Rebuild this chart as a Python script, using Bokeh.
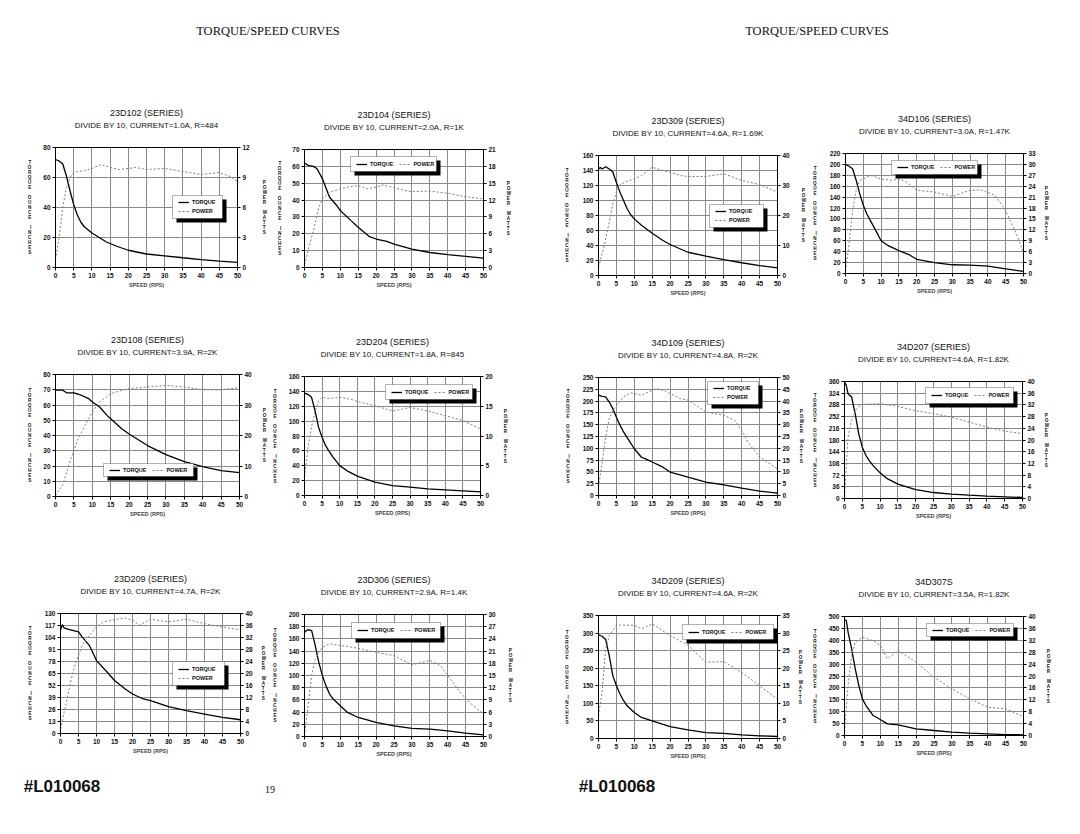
from bokeh.plotting import figure
from bokeh.models import (Range1d, LinearAxis, FixedTicker, Legend, LegendItem, Title,
                          BoxAnnotation, Div, Spacer, Axis)
from bokeh.layouts import row, column
from bokeh.embed import file_html
from bokeh.resources import INLINE

# ---------------- page texts ----------------
page_heading = "TORQUE/SPEED CURVES"
catalog_no = "#L010068"
page_no = "19"
x_label = "SPEED (RPS)"
left_label = ["TORQUE", "OUNCE", "INCHES"]
right_label = ["POWER", "WATTS"]
legend_labels = ["TORQUE", "POWER"]
speed_ticks = [0, 5, 10, 15, 20, 25, 30, 35, 40, 45, 50]

# ---------------- data ----------------
m1_title = "23D102 (SERIES)"
m1_sub = "DIVIDE BY 10, CURRENT=1.0A, R=484"
m1_tq_x = [0, 1, 2, 3, 4, 5, 6, 7, 8, 10, 12, 14, 17, 20, 25, 30, 35, 40, 45, 50]
m1_tq_y = [72, 71, 69, 61, 51, 42, 35, 30, 27, 23, 20, 17, 14, 11.5, 9, 7.8, 6.5, 5.3, 4.3, 3.4]
m1_pw_x = [0, 1, 2, 3, 4, 5, 6, 8, 10, 12.5, 15, 17.5, 20, 22, 25, 30, 35, 40, 45, 48, 50]
m1_pw_y = [0.8, 3.0, 6.0, 8.0, 9.0, 9.5, 9.6, 9.7, 9.9, 10.3, 10.0, 9.8, 9.9, 10.0, 9.8, 9.9, 9.6, 9.3, 9.5, 9.1, 8.6]
m1_tq_ticks = [0, 20, 40, 60, 80]
m1_pw_ticks = [0, 3, 6, 9, 12]

m2_title = "23D104 (SERIES)"
m2_sub = "DIVIDE BY 10, CURRENT=2.0A, R=1K"
m2_tq_x = [0, 1, 2.5, 3.5, 5, 7, 9, 10, 13, 15, 18, 20, 23, 25, 30, 35, 40, 45, 50]
m2_tq_y = [62, 60.6, 60, 58.6, 52.7, 41.7, 36.8, 33.8, 27.8, 23.9, 18.5, 16.9, 15.5, 13.9, 10.9, 8.9, 7.6, 6.6, 5.6]
m2_pw_x = [0, 1, 2.5, 4, 5, 7, 10, 13, 15, 17.5, 20, 22, 25, 28, 30, 35, 40, 45, 50]
m2_pw_y = [0.5, 3, 6.6, 10.7, 12.2, 13.4, 14, 14.4, 14.6, 14, 14.3, 14.7, 14.2, 13.7, 13.5, 13.6, 13.2, 12.6, 12.2]
m2_tq_ticks = [0, 10, 20, 30, 40, 50, 60, 70]
m2_pw_ticks = [0, 3, 6, 9, 12, 15, 18, 21]

m3_title = "23D309 (SERIES)"
m3_sub = "DIVIDE BY 10, CURRENT=4.6A, R=1.69K"
m3_tq_x = [0, 0.5, 1, 2, 3, 4, 5, 6, 7, 8, 9, 10, 12, 15, 18, 20, 25, 30, 35, 40, 45, 50]
m3_tq_y = [142, 144, 142, 145, 142, 138, 124, 111, 100, 89, 81, 75.5, 67, 56.4, 46.7, 41.3, 31, 25.8, 21.3, 17, 13.3, 10.2]
m3_pw_x = [0, 1.5, 3, 4, 5, 6, 8, 10, 12, 15, 18, 20, 23, 25, 30, 35, 40, 45, 50]
m3_pw_y = [2.8, 9.4, 17.8, 24, 27.8, 30.3, 31.4, 32.2, 33.3, 36.1, 35, 34.4, 33.3, 33, 33, 33.9, 31.7, 30.3, 27.8]
m3_tq_ticks = [0, 20, 40, 60, 80, 100, 120, 140, 160]
m3_pw_ticks = [0, 10, 20, 30, 40]

m4_title = "34D106 (SERIES)"
m4_sub = "DIVIDE BY 10, CURRENT=3.0A, R=1.47K"
m4_tq_x = [0, 1, 2, 3, 4, 5, 6, 7, 8, 10, 12, 15, 18, 20, 25, 30, 35, 40, 45, 50]
m4_tq_y = [200, 196.7, 192, 171, 146, 125, 109, 97, 85, 60, 51, 42, 34, 26, 20, 16, 15.4, 13.5, 8.6, 3.7]
m4_pw_x = [0, 1, 2, 3, 4, 5, 7, 10, 13, 15, 17, 20, 25, 30, 35, 38, 42, 45, 48, 50]
m4_pw_y = [0.7, 8, 17.3, 22.9, 25.6, 26, 27, 26, 25.6, 26, 25.2, 22.9, 22.4, 21.2, 22.9, 23, 21.5, 17.3, 10.9, 5.8]
m4_tq_ticks = [0, 20, 40, 60, 80, 100, 120, 140, 160, 180, 200, 220]
m4_pw_ticks = [0, 3, 6, 9, 12, 15, 18, 21, 24, 27, 30, 33]

m5_title = "23D108 (SERIES)"
m5_sub = "DIVIDE BY 10, CURRENT=3.9A, R=2K"
m5_tq_x = [0, 2, 3, 5, 7, 9, 10, 12, 14, 15, 18, 20, 25, 30, 35, 40, 45, 50]
m5_tq_y = [69.7, 69.7, 68, 68, 66.4, 64.2, 62, 58.7, 53.2, 51, 44.4, 41, 33.4, 27.5, 22.8, 19.6, 17, 15.6]
m5_pw_x = [0, 2, 4, 6, 8, 10, 12, 15, 18, 20, 25, 30, 35, 40, 45, 50]
m5_pw_y = [0.2, 4, 11.8, 18.4, 23.3, 27.7, 31, 33.7, 34.8, 35.4, 35.9, 36.4, 35.9, 35, 35, 35.7]
m5_tq_ticks = [0, 10, 20, 30, 40, 50, 60, 70, 80]
m5_pw_ticks = [0, 10, 20, 30, 40]

m6_title = "23D204 (SERIES)"
m6_sub = "DIVIDE BY 10, CURRENT=1.8A, R=845"
m6_tq_x = [0, 1, 2, 3, 4, 5, 6, 7, 8, 10, 12, 15, 20, 25, 30, 35, 40, 45, 50]
m6_tq_y = [137.7, 136, 132, 114, 91.6, 78.2, 67, 59.4, 52.3, 40.2, 33.5, 26, 17.9, 13.4, 11.2, 8.9, 7.6, 6.3, 4.9]
m6_pw_x = [0, 1, 2, 3, 4, 5, 7, 10, 13, 15, 20, 25, 30, 35, 40, 45, 50]
m6_pw_y = [3.1, 8.1, 11.5, 14.2, 15.9, 16.5, 16.3, 16.5, 16.2, 15.8, 15.1, 14.2, 14.8, 14.2, 13.4, 12.6, 11.2]
m6_tq_ticks = [0, 20, 40, 60, 80, 100, 120, 140, 160]
m6_pw_ticks = [0, 5, 10, 15, 20]

m7_title = "34D109 (SERIES)"
m7_sub = "DIVIDE BY 10, CURRENT=4.8A, R=2K"
m7_tq_x = [0, 1, 2, 3, 4, 5, 6, 7, 8, 10, 12, 13, 15, 18, 20, 25, 30, 35, 40, 45, 50]
m7_tq_y = [212.5, 210, 209, 198, 184, 166, 149, 134.6, 122.5, 99, 81, 78, 71, 60, 49.6, 39, 28.3, 22.7, 15.6, 9.2, 5]
m7_pw_x = [0, 1, 2, 3, 4, 5, 7, 9, 10, 12, 14, 16, 18, 20, 23, 25, 28, 30, 35, 38, 40, 42, 45, 50]
m7_pw_y = [3.5, 14, 24.8, 32.6, 36, 38, 41.8, 43.5, 43.2, 42.5, 43.9, 45.3, 44.6, 43.2, 41, 40.4, 37.5, 35.4, 34, 31.9, 27.6, 22, 16.3, 11.3]
m7_tq_ticks = [0, 25, 50, 75, 100, 125, 150, 175, 200, 225, 250]
m7_pw_ticks = [0, 5, 10, 15, 20, 25, 30, 35, 40, 45, 50]

m8_title = "34D207 (SERIES)"
m8_sub = "DIVIDE BY 10, CURRENT=4.6A, R=1.82K"
m8_tq_x = [0, 0.5, 1, 2, 3, 4, 5, 6, 7, 8, 10, 12, 15, 20, 25, 30, 35, 40, 45, 50]
m8_tq_y = [358, 348, 322, 312, 261, 199, 158, 133, 115.5, 102, 79, 61, 44, 27.6, 18.4, 13.3, 10.2, 7.2, 5.1, 3.1]
m8_pw_x = [0, 1, 2, 3, 4, 5, 10, 15, 20, 25, 30, 35, 40, 45, 50]
m8_pw_y = [0.6, 21, 26.7, 30, 31.5, 32.2, 32.4, 31.5, 30, 29, 27.8, 26.1, 24.4, 23, 22.2]
m8_tq_ticks = [0, 36, 72, 108, 144, 180, 216, 252, 288, 324, 360]
m8_pw_ticks = [0, 4, 8, 12, 16, 20, 24, 28, 32, 36, 40]

m9_title = "23D209 (SERIES)"
m9_sub = "DIVIDE BY 10, CURRENT=4.7A, R=2K"
m9_tq_x = [0, 0.5, 1, 2, 5, 6, 8, 10, 13, 15, 18, 20, 23, 25, 30, 35, 40, 45, 50]
m9_tq_y = [112, 118, 114.4, 113, 110, 104.6, 95.5, 79, 66.4, 57.4, 48.3, 42.8, 37.4, 35.6, 29, 24.7, 21, 17.4, 14.9]
m9_pw_x = [0, 1, 2, 3, 4, 5, 6, 8, 10, 12, 15, 18, 20, 22, 25, 30, 35, 40, 45, 50]
m9_pw_y = [1.5, 7, 12.6, 18.2, 22.7, 26, 29.4, 32.7, 35.5, 37.2, 38, 38.5, 37.8, 36.1, 38.1, 37.2, 38.1, 36.6, 35.5, 34.6]
m9_tq_ticks = [0, 13, 26, 39, 52, 65, 78, 91, 104, 117, 130]
m9_pw_ticks = [0, 4, 8, 12, 16, 20, 24, 28, 32, 36, 40]

m10_title = "23D306 (SERIES)"
m10_sub = "DIVIDE BY 10, CURRENT=2.9A, R=1.4K"
m10_tq_x = [0, 0.5, 1, 2, 3, 4, 5, 6, 7, 8, 10, 12, 15, 20, 25, 30, 35, 40, 45, 50]
m10_tq_y = [171, 173.7, 175, 173.7, 149, 121.6, 99.7, 83, 69.6, 61.4, 50.4, 39.5, 31.2, 23, 17.5, 13.2, 12, 9.3, 5.5, 2.7]
m10_pw_x = [0, 1, 2, 3, 4, 5, 7, 10, 15, 20, 25, 30, 35, 38, 40, 45, 50]
m10_pw_y = [0.2, 7.6, 15, 19, 20.7, 21.9, 22.8, 22.4, 21.7, 20.7, 19.9, 17.6, 18.7, 17.4, 15, 9.2, 5.5]
m10_tq_ticks = [0, 20, 40, 60, 80, 100, 120, 140, 160, 180, 200]
m10_pw_ticks = [0, 3, 6, 9, 12, 15, 18, 21, 24, 27, 30]

m11_title = "34D209 (SERIES)"
m11_sub = "DIVIDE BY 10, CURRENT=4.6A, R=2K"
m11_tq_x = [0, 1, 2, 3, 4, 5, 6, 7, 8, 10, 12, 15, 20, 25, 30, 35, 40, 45, 50]
m11_tq_y = [295, 291, 281.6, 236, 179, 150, 126.5, 107.5, 93, 74, 60, 50.4, 34, 24.7, 17, 14.3, 10.5, 7.6, 5.7]
m11_pw_x = [0, 1, 2, 3, 5, 7, 10, 12, 15, 20, 25, 30, 35, 40, 45, 50]
m11_pw_y = [6.5, 13.1, 25.5, 29.3, 32.2, 32.3, 32.2, 31.2, 32.6, 29.3, 26.5, 21.7, 21.9, 18.8, 15, 11.2]
m11_tq_ticks = [0, 50, 100, 150, 200, 250, 300, 350]
m11_pw_ticks = [0, 5, 10, 15, 20, 25, 30, 35]

m12_title = "34D307S"
m12_sub = "DIVIDE BY 10, CURRENT=3.5A, R=1.82K"
m12_tq_x = [0, 0.5, 1, 2, 3, 4, 5, 6, 7, 8, 10, 12, 15, 20, 25, 30, 35, 40, 45, 50]
m12_tq_y = [487, 483, 434, 364, 280, 210, 154, 126, 105, 84, 67, 49, 45, 28, 21, 14, 10, 7, 4, 3]
m12_pw_x = [0, 1, 2, 3, 5, 8, 10, 12, 15, 20, 25, 30, 35, 40, 45, 50]
m12_pw_y = [1.1, 16.8, 26.9, 31.4, 33, 31.9, 30.3, 25.8, 28.6, 24.6, 19.6, 15.7, 12.3, 9.5, 9, 6.2]
m12_tq_ticks = [0, 50, 100, 150, 200, 250, 300, 350, 400, 450, 500]
m12_pw_ticks = [0, 4, 8, 12, 16, 20, 24, 28, 32, 36, 40]

motors = [
    dict(title=m1_title, sub=m1_sub, tqx=m1_tq_x, tqy=m1_tq_y, pwx=m1_pw_x, pwy=m1_pw_y, tt=m1_tq_ticks, pt=m1_pw_ticks),
    dict(title=m2_title, sub=m2_sub, tqx=m2_tq_x, tqy=m2_tq_y, pwx=m2_pw_x, pwy=m2_pw_y, tt=m2_tq_ticks, pt=m2_pw_ticks),
    dict(title=m3_title, sub=m3_sub, tqx=m3_tq_x, tqy=m3_tq_y, pwx=m3_pw_x, pwy=m3_pw_y, tt=m3_tq_ticks, pt=m3_pw_ticks),
    dict(title=m4_title, sub=m4_sub, tqx=m4_tq_x, tqy=m4_tq_y, pwx=m4_pw_x, pwy=m4_pw_y, tt=m4_tq_ticks, pt=m4_pw_ticks),
    dict(title=m5_title, sub=m5_sub, tqx=m5_tq_x, tqy=m5_tq_y, pwx=m5_pw_x, pwy=m5_pw_y, tt=m5_tq_ticks, pt=m5_pw_ticks),
    dict(title=m6_title, sub=m6_sub, tqx=m6_tq_x, tqy=m6_tq_y, pwx=m6_pw_x, pwy=m6_pw_y, tt=m6_tq_ticks, pt=m6_pw_ticks),
    dict(title=m7_title, sub=m7_sub, tqx=m7_tq_x, tqy=m7_tq_y, pwx=m7_pw_x, pwy=m7_pw_y, tt=m7_tq_ticks, pt=m7_pw_ticks),
    dict(title=m8_title, sub=m8_sub, tqx=m8_tq_x, tqy=m8_tq_y, pwx=m8_pw_x, pwy=m8_pw_y, tt=m8_tq_ticks, pt=m8_pw_ticks),
    dict(title=m9_title, sub=m9_sub, tqx=m9_tq_x, tqy=m9_tq_y, pwx=m9_pw_x, pwy=m9_pw_y, tt=m9_tq_ticks, pt=m9_pw_ticks),
    dict(title=m10_title, sub=m10_sub, tqx=m10_tq_x, tqy=m10_tq_y, pwx=m10_pw_x, pwy=m10_pw_y, tt=m10_tq_ticks, pt=m10_pw_ticks),
    dict(title=m11_title, sub=m11_sub, tqx=m11_tq_x, tqy=m11_tq_y, pwx=m11_pw_x, pwy=m11_pw_y, tt=m11_tq_ticks, pt=m11_pw_ticks),
    dict(title=m12_title, sub=m12_sub, tqx=m12_tq_x, tqy=m12_tq_y, pwx=m12_pw_x, pwy=m12_pw_y, tt=m12_tq_ticks, pt=m12_pw_ticks),
]

# ---------------- layout (page pixels) ----------------
COLS = [(0, 270), (270, 535), (535, 810), (810, 1080)]
ROWS = [(85, 310), (310, 545), (545, 770)]
TOP_B = 62      # border above every frame
BOT_B = 30      # border below every frame
# plot frames: left, top, right, bottom
FRAMES = [
    (55, 147, 239, 267), (304, 149, 483, 267), (598, 155, 777, 275), (843, 153, 1023, 273),
    (55, 374, 240, 496), (302, 376, 480, 495), (598, 377, 777, 495), (843, 381, 1022, 498),
    (60, 613, 240, 733), (303, 614, 483, 736), (598, 615, 777, 738), (843, 616, 1023, 735),
]
# legend box: orientation, left, top (from frame top-left), width, height
LEGENDS = [
    ("v", 117, 48, 50, 23), ("h", 46, 7, 86, 15), ("v", 111, 49, 54, 23), ("h", 46, 7, 86, 14),
    ("h", 48, 89, 90, 13), ("h", 81, 8, 87, 15), ("v", 109, 4, 51, 23), ("h", 81, 6, 88, 16),
    ("v", 112, 48, 52, 24), ("h", 47, 8, 89, 16), ("h", 84, 9, 91, 15), ("h", 82, 7, 87, 13),
]
# stacked side labels: distance of their centre left / right of the frame
SIDES = [
    (23, 24), (22, 22), (28, 23), (27, 20),
    (23, 22), (26, 22), (27, 21), (26, 21),
    (27, 20), (26, 24), (28, 20), (26, 22),
]

FONT = "Liberation Sans"
GRID = "#8a8a8a"
DIGIT_W = 3.65          # width of one tick-label digit at 6.5px
HAS_ORIENT = "axis_label_orientation" in Axis.properties()


def stack(words):
    lines = []
    for i, w in enumerate(words):
        if i:
            lines.append(" ")
        lines.extend(list(w))
    return "\n".join(lines)


def style_axis(ax):
    ax.axis_line_color = "black"
    ax.axis_line_width = 1
    ax.major_tick_line_color = "black"
    ax.major_tick_out = 3
    ax.major_tick_in = 0
    ax.minor_tick_line_color = None
    ax.major_label_text_font = FONT
    ax.major_label_text_font_size = "6.5px"
    ax.major_label_text_font_style = "bold"
    ax.major_label_text_color = "#111111"
    ax.major_label_standoff = 2


def side_label(ax, words, dist, ticks):
    nd = max(len(str(t)) for t in ticks)
    ax.axis_label_text_font = FONT
    ax.axis_label_text_font_size = "4.6px"
    ax.axis_label_text_font_style = "bold"
    ax.axis_label_text_color = "#111111"
    if HAS_ORIENT:
        ax.axis_label = stack(words)
        ax.axis_label_orientation = "horizontal"
        ax.axis_label_text_line_height = 1.0
        ax.axis_label_standoff = max(0, int(round(dist - 3 - 2 - nd * DIGIT_W - 1.5)))
    else:
        ax.axis_label = "   ".join(words)
        ax.axis_label_standoff = max(0, int(round(dist - 3 - 2 - nd * DIGIT_W - 3)))


def make_chart(i):
    m = motors[i]
    fl, ft, fr, fb = FRAMES[i]
    x0, x1 = COLS[i % 4]
    fh = fb - ft
    p = figure(width=x1 - x0, height=TOP_B + fh + BOT_B, title=None,
               x_range=Range1d(0, 50), y_range=Range1d(0, m["tt"][-1]),
               output_backend="svg", toolbar_location=None,
               min_border_left=fl - x0, min_border_right=x1 - fr,
               min_border_top=TOP_B, min_border_bottom=BOT_B)
    p.extra_y_ranges = {"power": Range1d(0, m["pt"][-1])}
    p.background_fill_color = "white"
    p.border_fill_color = "white"
    p.outline_line_color = "black"
    p.outline_line_width = 1

    p.xaxis.ticker = FixedTicker(ticks=speed_ticks)
    p.yaxis.ticker = FixedTicker(ticks=m["tt"])
    p.xgrid.ticker = FixedTicker(ticks=speed_ticks)
    p.ygrid.ticker = FixedTicker(ticks=m["tt"])
    for g in (p.xgrid[0], p.ygrid[0]):
        g.grid_line_color = GRID
        g.grid_line_width = 1

    rax = LinearAxis(y_range_name="power", ticker=FixedTicker(ticks=m["pt"]))
    p.add_layout(rax, "right")
    for ax in (p.xaxis[0], p.yaxis[0], rax):
        style_axis(ax)
    p.xaxis.axis_label = x_label
    p.xaxis.axis_label_text_font = FONT
    p.xaxis.axis_label_text_font_size = "5.5px"
    p.xaxis.axis_label_text_font_style = "bold"
    p.xaxis.axis_label_standoff = 1

    dl, dr = SIDES[i]
    side_label(p.yaxis[0], left_label, dl, m["tt"])
    side_label(rax, right_label, dr, m["pt"])

    tq = p.line(m["tqx"], m["tqy"], line_color="black", line_width=1.3)
    pw = p.line(m["pwx"], m["pwy"], y_range_name="power", line_color="#7d7d7d",
                line_width=1, line_dash="2 2")

    # gap, then subtitle, then title (outermost)
    p.add_layout(Title(text=" ", text_font_size="1px", standoff=14), "above")
    p.add_layout(Title(text=m["sub"], align="center", text_font=FONT, text_font_size="8px",
                       text_font_style="normal", text_color="#111111", standoff=2), "above")
    p.add_layout(Title(text=m["title"], align="center", text_font=FONT, text_font_size="9px",
                       text_font_style="normal", text_color="#111111", standoff=0), "above")

    # legend with drop shadow
    ori, lx, lt, lw, lh = LEGENDS[i]
    top = fh - lt
    bot = top - lh
    p.add_layout(BoxAnnotation(left=lx + 4, right=lx + lw + 4, top=top - 4, bottom=bot - 4,
                               left_units="screen", right_units="screen", top_units="screen",
                               bottom_units="screen", fill_color="black", fill_alpha=1,
                               line_color=None))
    p.add_layout(BoxAnnotation(left=lx, right=lx + lw, top=top, bottom=bot,
                               left_units="screen", right_units="screen", top_units="screen",
                               bottom_units="screen", fill_color="white", fill_alpha=1,
                               line_color="black", line_width=1))
    items = [LegendItem(label=legend_labels[0], renderers=[tq]),
             LegendItem(label=legend_labels[1], renderers=[pw])]
    leg_h = 8 if ori == "h" else 17
    loc = (lx + 6, bot + (lh - leg_h) / 2)
    leg = Legend(items=items, location=loc, orientation="horizontal" if ori == "h" else "vertical",
                 padding=0, margin=0, spacing=6 if ori == "h" else 1,
                 glyph_width=11, glyph_height=8, label_height=8, label_standoff=3,
                 label_text_font=FONT, label_text_font_size="5.5px",
                 label_text_font_style="bold", label_text_color="#111111",
                 border_line_alpha=0, background_fill_alpha=0)
    p.add_layout(leg, "center")

    # vertical placement inside the row band
    r0, r1 = ROWS[i // 4]
    above = ft - TOP_B - r0
    below = r1 - (fb + BOT_B)
    parts = []
    if above > 0:
        parts.append(Spacer(width=x1 - x0, height=above))
    parts.append(p)
    if below > 0:
        parts.append(Spacer(width=x1 - x0, height=below))
    return column(*parts)


cells = [make_chart(i) for i in range(12)]


def span(left, top, text, css):
    return (f'<div style="position:absolute;left:{left}px;top:{top}px;'
            f'transform:translate(-50%,-50%);white-space:nowrap;{css}">{text}</div>')


serif = "font-family:'Liberation Serif','Times New Roman',serif;color:#111;"
sans = "font-family:'Liberation Sans',Arial,sans-serif;color:#111;"
header = Div(width=1080, height=85, margin=0, text=(
    '<div style="position:relative;width:1080px;height:85px;">'
    + span(268, 32, page_heading, serif + "font-size:12.5px;")
    + span(817, 32, page_heading, serif + "font-size:12.5px;")
    + '</div>'))
footer = Div(width=1080, height=60, margin=0, text=(
    '<div style="position:relative;width:1080px;height:60px;">'
    + span(62, 17, catalog_no, sans + "font-size:17px;font-weight:bold;")
    + span(617, 17, catalog_no, sans + "font-size:17px;font-weight:bold;")
    + span(270, 20, page_no, serif + "font-size:10px;")
    + '</div>'))

page = column(header,
              row(*cells[0:4]),
              row(*cells[4:8]),
              row(*cells[8:12]),
              footer)

open("out.html", "w").write(file_html(page, INLINE))
